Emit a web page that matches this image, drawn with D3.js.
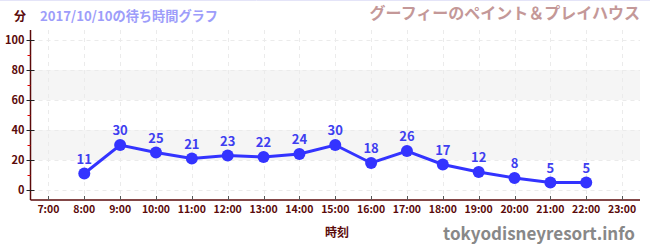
<!DOCTYPE html>
<html lang="ja">
  <head>
    <meta charset="UTF-8" />
    <title>待ち時間グラフ</title>
    <script src="https://d3js.org/d3.v7.min.js"></script>
    <style>
      body { margin: 0; background: #fff; }
      text { font-family: 'Noto Sans CJK JP', 'Noto Sans', sans-serif; font-weight: bold; }
    </style>
  </head>
  <body>
    <div class="chart"></div>
    <script>
      // データ
      const hours = [8, 9, 10, 11, 12, 13, 14, 15, 16, 17, 18, 19, 20, 21, 22]
      const waits = [11, 30, 25, 21, 23, 22, 24, 30, 18, 26, 17, 12, 8, 5, 5]
      const xTicks = [7, 8, 9, 10, 11, 12, 13, 14, 15, 16, 17, 18, 19, 20, 21, 22, 23]
      const yTicks = [0, 20, 40, 60, 80, 100]
      const yMinor = [10, 30, 50, 70, 90]
      const bands = [[20, 40], [60, 80]]
      const dateTitle = '2017/10/10の待ち時間グラフ'
      const attraction = 'グーフィーのペイント＆プレイハウス'

      const width = 650
      const height = 250
      const plotLeft = 30.5
      const plotRight = 640
      const plotTop = 30
      const plotBottom = 200

      const svg = d3.select('.chart').append('svg').attr('width', width).attr('height', height)

      const x = d3.scaleLinear().domain([6.5, 23.5]).range([plotLeft, plotRight])
      const y = d3.scaleLinear().domain([-20 / 3, 320 / 3]).range([plotBottom, plotTop])

      // 上の線
      svg.append('line').attr('x1', 0).attr('x2', width).attr('y1', 0.5).attr('y2', 0.5)
        .attr('stroke', '#e4e4f8').attr('stroke-width', 1)

      // 帯
      svg.append('g').selectAll('rect').data(bands).join('rect')
        .attr('x', plotLeft).attr('width', plotRight - plotLeft)
        .attr('y', (d) => y(d[1])).attr('height', (d) => y(d[0]) - y(d[1]))
        .attr('fill', '#f5f5f5')

      // グリッド
      const grid = svg.append('g').attr('stroke', '#ebebeb').attr('stroke-dasharray', '4,4')
      grid.selectAll('.v').data(xTicks).join('line')
        .attr('x1', (d) => Math.round(x(d)) + 0.5).attr('x2', (d) => Math.round(x(d)) + 0.5)
        .attr('y1', plotTop).attr('y2', plotBottom)
      grid.selectAll('.h').data(yTicks).join('line')
        .attr('x1', plotLeft).attr('x2', plotRight)
        .attr('y1', (d) => Math.round(y(d)) + 0.5).attr('y2', (d) => Math.round(y(d)) + 0.5)

      // 軸
      const axisColor = '#5a0a0a'
      svg.append('line').attr('x1', plotLeft).attr('x2', plotLeft).attr('y1', plotTop).attr('y2', plotBottom)
        .attr('stroke', axisColor).attr('stroke-width', 1.5)
      svg.append('line').attr('x1', plotLeft).attr('x2', plotRight).attr('y1', plotBottom).attr('y2', plotBottom)
        .attr('stroke', axisColor).attr('stroke-width', 1.5)

      svg.append('g').selectAll('line').data(yTicks).join('line')
        .attr('x1', plotLeft - 4).attr('x2', plotLeft + 4)
        .attr('y1', (d) => Math.round(y(d)) + 0.5).attr('y2', (d) => Math.round(y(d)) + 0.5)
        .attr('stroke', '#222')
      svg.append('g').selectAll('line').data(yMinor).join('line')
        .attr('x1', plotLeft - 3).attr('x2', plotLeft)
        .attr('y1', (d) => Math.round(y(d)) + 0.5).attr('y2', (d) => Math.round(y(d)) + 0.5)
        .attr('stroke', '#e00000')
      svg.append('g').selectAll('text').data(yTicks).join('text')
        .attr('x', plotLeft - 6).attr('y', (d) => y(d)).attr('dy', '0.35em')
        .attr('text-anchor', 'end').attr('font-size', 11).attr('fill', axisColor)
        .text((d) => d)

      svg.append('g').selectAll('line').data(xTicks).join('line')
        .attr('x1', (d) => Math.round(x(d)) + 0.5).attr('x2', (d) => Math.round(x(d)) + 0.5)
        .attr('y1', plotBottom - 4).attr('y2', plotBottom)
        .attr('stroke', '#555')
      svg.append('g').selectAll('text').data(xTicks).join('text')
        .attr('x', (d) => x(d)).attr('y', plotBottom + 13)
        .attr('text-anchor', 'middle').attr('font-size', 10.5).attr('fill', axisColor)
        .text((d) => d + ':00')

      // タイトル
      svg.append('text').attr('x', 20).attr('y', 21).attr('text-anchor', 'middle')
        .attr('font-size', 12).attr('fill', axisColor).text('分')
      svg.append('text').attr('x', 40).attr('y', 21)
        .attr('font-size', 13.2).attr('fill', '#9d9dfa').text(dateTitle)
      svg.append('text').attr('x', 640).attr('y', 19).attr('text-anchor', 'end')
        .attr('font-size', 16).attr('fill', '#c49898').text(attraction)
      svg.append('text').attr('x', 337).attr('y', 237).attr('text-anchor', 'middle')
        .attr('font-size', 12).attr('fill', axisColor).text('時刻')
      svg.append('text').attr('x', 635).attr('y', 240).attr('text-anchor', 'end')
        .attr('font-size', 17).attr('fill', '#888').text('tokyodisneyresort.info')

      // 折れ線
      const pts = hours.map((h, i) => [h, waits[i]])
      svg.append('path').datum(pts)
        .attr('fill', 'none').attr('stroke', '#3333ff').attr('stroke-width', 3)
        .attr('d', d3.line().x((d) => x(d[0])).y((d) => y(d[1])))
      svg.append('g').selectAll('circle').data(pts).join('circle')
        .attr('cx', (d) => x(d[0])).attr('cy', (d) => y(d[1])).attr('r', 6)
        .attr('fill', '#3333ff')
      svg.append('g').selectAll('text').data(pts).join('text')
        .attr('x', (d) => x(d[0])).attr('y', (d) => y(d[1]) - 10)
        .attr('text-anchor', 'middle').attr('font-size', 13).attr('fill', '#3e3ef0')
        .text((d) => d[1])
    </script>
  </body>
</html>
